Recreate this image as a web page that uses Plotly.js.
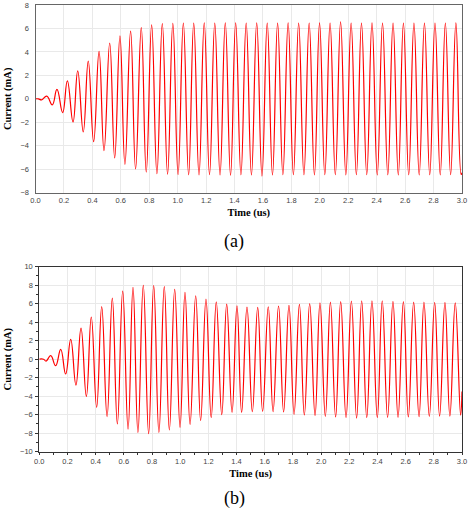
<!DOCTYPE html>
<html>
<head>
<meta charset="utf-8">
<script src="https://cdn.plot.ly/plotly-3.0.1.min.js"></script>
<style>
html,body{margin:0;padding:0;background:#fff;}
#chart{width:469px;height:512px;}
</style>
</head>
<body>
<div id="chart"></div>
<script>
// Panel (a): extrema of the current waveform (time in us, current in mA)
const timeA = [0, 0.02, 0.043, 0.079, 0.118, 0.151, 0.191, 0.224, 0.264, 0.297, 0.336, 0.371, 0.409, 0.447, 0.482, 0.522, 0.557, 0.594, 0.629, 0.669, 0.704, 0.744, 0.779, 0.817, 0.854,
  0.892, 0.929, 0.966, 1.003, 1.040, 1.077, 1.113, 1.150, 1.187, 1.224, 1.261, 1.298, 1.335, 1.372, 1.408, 1.445, 1.482, 1.519, 1.556, 1.593, 1.630, 1.667, 1.703, 1.740, 1.777, 1.814, 1.851, 1.888, 1.925, 1.962,
  1.998, 2.035, 2.072, 2.109, 2.146, 2.183, 2.220, 2.257, 2.293, 2.330, 2.367, 2.404, 2.441, 2.478, 2.515, 2.552, 2.588, 2.625, 2.662, 2.699, 2.736, 2.773, 2.810, 2.847, 2.883, 2.920, 2.957, 2.994, 3.0];
const currentA = [0, 0, -0.08, 0.23, -0.51, 0.80, -1.17, 1.54, -1.97, 2.39, -2.82, 3.22, -3.65, 4.05, -4.42, 4.76, -5.04, 5.38, -5.58, 5.78, -5.98, 6.07, -6.24, 6.30, -6.38,
  6.41, -6.42, 6.44, -6.45, 6.45, -6.47, 6.46, -6.48, 6.47, -6.46, 6.46, -6.48, 6.47, -6.50, 6.48, -6.47, 6.45, -6.48, 6.47, -6.58, 6.46, -6.48, 6.45, -6.47, 6.47, -6.46, 6.45, -6.47, 6.46, -6.48,
  6.47, -6.46, 6.45, -6.47, 6.56, -6.48, 6.46, -6.47, 6.45, -6.46, 6.47, -6.48, 6.46, -6.47, 6.45, -6.48, 6.46, -6.47, 6.46, -6.48, 6.45, -6.47, 6.46, -6.48, 6.45, -6.46, 6.47, -6.45, -6.3];

// Panel (b)
const timeB = [0, 0.03, 0.048, 0.081, 0.116, 0.152, 0.187, 0.223, 0.260, 0.296, 0.334, 0.369, 0.407, 0.443, 0.481, 0.518, 0.554, 0.592, 0.630, 0.665, 0.700, 0.738, 0.776, 0.812, 0.849,
  0.887, 0.923, 0.961, 0.999, 1.034, 1.070, 1.110, 1.145, 1.183, 1.220, 1.256, 1.295, 1.330, 1.368, 1.403, 1.436, 1.474, 1.512, 1.550, 1.585, 1.625, 1.659, 1.698, 1.734, 1.772, 1.808, 1.846, 1.881, 1.919, 1.957,
  1.992, 2.030, 2.066, 2.103, 2.139, 2.177, 2.215, 2.252, 2.288, 2.324, 2.361, 2.399, 2.434, 2.472, 2.510, 2.546, 2.584, 2.619, 2.657, 2.695, 2.730, 2.768, 2.806, 2.841, 2.879, 2.914, 2.952, 2.990, 3.0];
const currentB = [0, 0, -0.20, 0.38, -0.70, 1.06, -1.60, 2.14, -2.80, 3.36, -4.02, 4.56, -5.20, 5.68, -6.20, 6.60, -7.00, 7.37, -7.55, 7.77, -7.90, 7.98, -8.05, 7.95, -7.90,
  7.84, -7.65, 7.55, -7.36, 7.23, -7.04, 6.86, -6.65, 6.50, -6.32, 6.20, -6.00, 5.96, -5.75, 5.78, -5.75, 5.64, -5.68, 5.60, -5.64, 5.67, -5.68, 5.75, -5.71, 5.82, -5.96, 5.93, -6.03, 6.00, -6.10,
  6.10, -6.18, 6.18, -6.25, 6.22, -6.32, 6.29, -6.36, 6.32, -6.32, 6.32, -6.32, 6.32, -6.29, 6.25, -6.29, 6.22, -6.25, 6.18, -6.22, 6.18, -6.18, 6.15, -6.15, 6.15, -6.15, 6.10, -6.05, -3.5];

const xTickVals = [0, 0.2, 0.4, 0.6, 0.8, 1.0, 1.2, 1.4, 1.6, 1.8, 2.0, 2.2, 2.4, 2.6, 2.8, 3.0];
const xTickText = ["0.0", "0.2", "0.4", "0.6", "0.8", "1.0", "1.2", "1.4", "1.6", "1.8", "2.0", "2.2", "2.4", "2.6", "2.8", "3.0"];
const yTickA = [-8, -6, -4, -2, 0, 2, 4, 6, 8];
const yTickB = [-10, -8, -6, -4, -2, 0, 2, 4, 6, 8, 10];
const xTitle = "Time (us)";
const yTitle = "Current (mA)";
const captions = ["(a)", "(b)"];

const W = 469, H = 512;
const serif = "'Liberation Serif', 'Times New Roman', serif";
const tickFont = {family: "'Liberation Sans', Arial, sans-serif", size: 7.5, color: "#444"};
const titleFont = {family: serif, size: 10.5, color: "#000", weight: "bold"};
const lineStyle = {color: "#ff0000", width: 1.2, shape: "spline", smoothing: 1.3};

const traces = [
  {x: timeA, y: currentA, type: "scatter", mode: "lines", line: lineStyle, xaxis: "x", yaxis: "y", hoverinfo: "skip"},
  {x: timeB, y: currentB, type: "scatter", mode: "lines", line: lineStyle, xaxis: "x2", yaxis: "y2", hoverinfo: "skip"}
];

function xAxis(domain, anchor, withTicks) {
  return {
    domain: domain, anchor: anchor, range: [0, 3], autorange: false,
    tickvals: xTickVals, ticktext: xTickText, tickfont: tickFont,
    showgrid: true, gridcolor: "#e9e9e9", gridwidth: 1, zeroline: false,
    showline: true, mirror: true, linecolor: withTicks ? "#333" : "#666", linewidth: 1,
    ticks: withTicks ? "outside" : "", ticklen: 2, tickcolor: "#333", tickwidth: 1,
    minor: withTicks ? {dtick: 0.1, ticks: "outside", ticklen: 2, tickcolor: "#333", showgrid: false} : undefined,
    title: {text: xTitle, font: titleFont, standoff: 4},
    automargin: false, fixedrange: true
  };
}
function yAxis(domain, anchor, range, vals, withTicks) {
  return {
    domain: domain, anchor: anchor, range: range, autorange: false,
    tickvals: vals, tickfont: tickFont,
    showgrid: true, gridcolor: "#e9e9e9", gridwidth: 1, zeroline: false,
    showline: true, mirror: true, linecolor: withTicks ? "#333" : "#666", linewidth: 1,
    ticks: withTicks ? "outside" : "", ticklen: 3, tickcolor: "#333", tickwidth: 1,
    minor: withTicks ? {dtick: 1, ticks: "outside", ticklen: 2, tickcolor: "#333", showgrid: false} : undefined,
    ticklabelstandoff: withTicks ? 1 : 4,
    title: {text: yTitle, font: titleFont, standoff: 6},
    automargin: false, fixedrange: true
  };
}

const layout = {
  width: W, height: H,
  margin: {l: 0, r: 0, t: 0, b: 0},
  paper_bgcolor: "#fff", plot_bgcolor: "#fff",
  showlegend: false,
  xaxis: xAxis([35.5 / W, 462 / W], "y", false),
  yaxis: yAxis([1 - 192.7 / H, 1 - 5 / H], "x", [-8, 8], yTickA, false),
  xaxis2: xAxis([39.3 / W, 462 / W], "y2", true),
  yaxis2: yAxis([1 - 451.7 / H, 1 - 266.7 / H], "x2", [-10, 10], yTickB, true),
  annotations: [
    {text: captions[0], xref: "paper", yref: "paper", x: 234 / W, y: 1 - 241 / H, xanchor: "center", yanchor: "middle", showarrow: false,
     font: {family: serif, size: 18, color: "#000"}},
    {text: captions[1], xref: "paper", yref: "paper", x: 234 / W, y: 1 - 498 / H, xanchor: "center", yanchor: "middle", showarrow: false,
     font: {family: serif, size: 18, color: "#000"}}
  ]
};

Plotly.newPlot("chart", traces, layout, {staticPlot: true, displayModeBar: false});
</script>
</body>
</html>
